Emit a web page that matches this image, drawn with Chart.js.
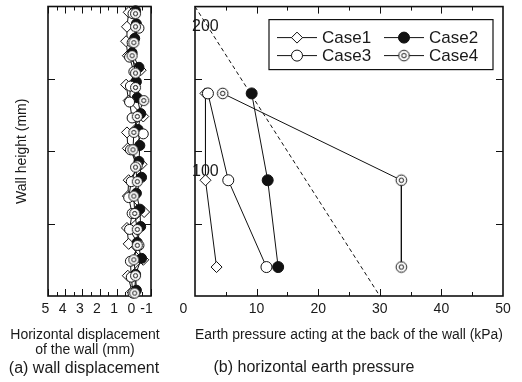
<!DOCTYPE html>
<html>
<head>
<meta charset="utf-8">
<script src="https://cdn.jsdelivr.net/npm/chart.js@4/dist/chart.umd.min.js"></script>
<style>
  body { margin: 0; background: #fff; }
  #wrap { position: relative; width: 522px; height: 382px; font-family: "Liberation Sans", Arial, sans-serif; color: #1a1a1a; }
  canvas { position: absolute; top: 0; }
  .cap { position: absolute; font-size: 16px; line-height: 20px; text-align: center; white-space: nowrap; }
  .axt { position: absolute; font-size: 14px; line-height: 15px; text-align: center; white-space: nowrap; }
</style>
</head>
<body>
<div id="wrap">
  <canvas id="dispChart" width="170" height="382" style="left:0"></canvas>
  <canvas id="pressChart" width="352" height="382" style="left:170px"></canvas>
  <div class="axt" style="left:0; width:170px; top:327px">Horizontal displacement<br>of the wall (mm)</div>
  <div class="cap" style="left:0; width:168px; top:358px">(a) wall displacement</div>
  <div class="cap" style="left:194px; width:240px; top:357px">(b) horizontal earth pressure</div>
</div>
<script>
// (a) wall displacement: height (mm) and horizontal displacement (mm)
const case1Height = [3, 14, 25, 36, 47, 58, 69, 80, 91, 102, 113, 124, 135, 146, 156, 166, 176, 186, 196];
const case1Disp   = [0.1, 0.35, -0.55, 0.3, 0.4, -0.6, 0.35, 0.3, -0.45, 0.35, 0.4, -0.55, 0.3, 0.45, -0.4, 0.35, 0.45, 0.4, 0.3];
const case2Height = [4, 15, 26, 37, 48, 60, 71, 82, 93, 104, 115, 126, 137, 148, 158, 168, 178, 188, 197];
const case2Disp   = [-0.15, -0.1, -0.45, -0.2, -0.4, -0.35, -0.15, -0.45, -0.3, -0.35, -0.25, -0.4, -0.2, -0.15, -0.3, 0.1, -0.05, -0.15, -0.1];
const case3Height = [2, 13, 24, 35, 46, 57, 68, 79, 90, 101, 112, 123, 134, 145, 155, 165, 175, 185, 195];
const case3Disp   = [0.05, 0.15, 0.2, -0.3, 0.25, 0.1, 0.3, 0.15, -0.2, 0.2, -0.55, 0.1, 0.25, 0.2, 0.0, 0.25, 0.1, -0.3, 0.05];
const case4Height = [2, 14, 25, 35, 46, 57, 69, 79, 89, 101, 113, 124, 135, 144, 154, 166, 175, 186, 195];
const case4Disp   = [-0.05, -0.1, 0.0, -0.2, -0.2, -0.05, 0.0, -0.2, -0.1, 0.05, 0.0, -0.2, -0.58, -0.1, -0.1, 0.1, 0.0, -0.1, -0.1];

// (b) horizontal earth pressure (kPa) at three heights (mm)
const pressHeight = [140, 80, 20];
const case1Press = [1.7, 1.7, 3.5];
const case2Press = [9.2, 11.8, 13.5];
const case3Press = [2.1, 5.4, 11.6];
const case4Press = [4.5, 33.5, 33.5];
const refPress = [0, 30];
const refHeight = [200, 0];

const heightLabels = [100, 200];
const dispTicks = [-1, -0.5, 0, 0.5, 1, 1.5, 2, 2.5, 3, 3.5, 4, 4.5, 5];
const pressTicks = [5, 10, 15, 20, 25, 30, 35, 40, 45];
const heightTicks = [50, 100, 150];

Chart.defaults.font.family = '"Liberation Sans", Arial, sans-serif';
Chart.defaults.color = '#1a1a1a';

const pts = (xs, ys) => xs.map((v, i) => ({ x: v, y: ys[i] }));

function doubleCircle(r) {
  const c = document.createElement('canvas');
  const s = Math.ceil(r * 2 + 3) | 1;
  c.width = s; c.height = s;
  const g = c.getContext('2d');
  g.strokeStyle = '#111'; g.fillStyle = '#fff'; g.lineWidth = 1;
  g.beginPath(); g.arc(s / 2, s / 2, r, 0, Math.PI * 2); g.fill(); g.stroke();
  g.beginPath(); g.arc(s / 2, s / 2, r * 0.42, 0, Math.PI * 2); g.stroke();
  return c;
}

function series(label, data, pointStyle, fill, r, order) {
  return {
    label, data, showLine: true, order, clip: false,
    borderColor: '#111', borderWidth: 1,
    pointStyle, pointRadius: r, pointHoverRadius: r,
    pointBackgroundColor: fill, pointBorderColor: '#111', pointBorderWidth: 1
  };
}

// box frame with short inward ticks on all four sides
const frameTicks = {
  id: 'frameTicks',
  beforeDatasetsDraw(chart, args, opts) {
    const { ctx, chartArea: a, scales } = chart;
    ctx.save();
    ctx.strokeStyle = '#111';
    ctx.lineWidth = 1;
    ctx.beginPath();
    opts.xTicks.forEach(v => {
      const p = Math.round(scales.x.getPixelForValue(v)) + 0.5;
      const len = v % opts.xMajor === 0 ? 7 : 4;
      ctx.moveTo(p, a.bottom); ctx.lineTo(p, a.bottom - len);
      ctx.moveTo(p, a.top); ctx.lineTo(p, a.top + len);
    });
    opts.yTicks.forEach(v => {
      const p = Math.round(scales.y.getPixelForValue(v)) + 0.5;
      ctx.moveTo(a.left, p); ctx.lineTo(a.left + 7, p);
      ctx.moveTo(a.right, p); ctx.lineTo(a.right - 7, p);
    });
    ctx.stroke();
    ctx.lineWidth = 1.6;
    ctx.strokeRect(a.left, a.top, a.right - a.left, a.bottom - a.top);
    ctx.restore();
  }
};

// two-column boxed legend with line-through-marker samples
const boxLegend = {
  id: 'boxLegend',
  afterDatasetsDraw(chart) {
    const { ctx, chartArea: a } = chart;
    const items = chart.data.datasets.filter(d => d.label.startsWith('Case'));
    const bx = a.right - 234, by = a.top + 13, bw = 224, bh = 50;
    ctx.save();
    ctx.fillStyle = '#fff';
    ctx.fillRect(bx, by, bw, bh);
    ctx.strokeStyle = '#111';
    ctx.lineWidth = 1.2;
    ctx.strokeRect(bx, by, bw, bh);
    items.forEach((d, i) => {
      const lx = bx + 8 + (i % 2) * 107;
      const ly = by + 18 + Math.floor(i / 2) * 18;
      ctx.lineWidth = 1;
      ctx.strokeStyle = '#111';
      ctx.beginPath(); ctx.moveTo(lx, ly); ctx.lineTo(lx + 40, ly); ctx.stroke();
      ctx.fillStyle = d.pointBackgroundColor;
      Chart.helpers.drawPoint(ctx, { pointStyle: d.pointStyle, radius: d.pointRadius, rotation: 0, borderWidth: 1 }, lx + 20, ly);
      ctx.fillStyle = '#1a1a1a';
      ctx.font = '17px "Liberation Sans", Arial, sans-serif';
      ctx.textBaseline = 'middle';
      ctx.fillText(d.label, lx + 45, ly + 1);
    });
    ctx.restore();
  }
};

const noGrid = { display: false, drawTicks: false };

new Chart(document.getElementById('dispChart'), {
  type: 'scatter',
  data: {
    datasets: [
      series('Case1', pts(case1Disp, case1Height), 'rectRot', '#fff', 5.5, 4),
      series('Case2', pts(case2Disp, case2Height), 'circle', '#111', 5, 3),
      series('Case3', pts(case3Disp, case3Height), 'circle', '#fff', 5, 2),
      series('Case4', pts(case4Disp, case4Height), doubleCircle(5), '#fff', 5, 1)
    ]
  },
  options: {
    responsive: false, animation: false, devicePixelRatio: 1,
    layout: { padding: { top: 3, right: 19, left: 0, bottom: 0 } },
    plugins: {
      legend: { display: false }, tooltip: { enabled: false },
      frameTicks: { xTicks: dispTicks, xMajor: 1, yTicks: heightTicks }
    },
    scales: {
      x: {
        type: 'linear', reverse: true, min: -1, max: 5,
        grid: noGrid, border: { display: false },
        ticks: { stepSize: 1, padding: 5, labelOffset: -2.5, font: { size: 14 },
                 autoSkip: false, maxRotation: 0, minRotation: 0,
                 callback: v => (v === -1 ? '-1 ' : String(v)) },
        afterFit: s => { s.height = 86; }
      },
      y: {
        type: 'linear', min: 0, max: 200,
        grid: noGrid, border: { display: false },
        ticks: { display: false, stepSize: 50 },
        title: { display: true, text: 'Wall height (mm)', font: { size: 14 }, padding: { top: 14, bottom: 0 } },
        afterFit: s => { s.width = 48; }
      }
    }
  },
  plugins: [frameTicks]
});

new Chart(document.getElementById('pressChart'), {
  type: 'scatter',
  data: {
    datasets: [
      series('Case1', pts(case1Press, pressHeight), 'rectRot', '#fff', 5.5, 4),
      series('Case2', pts(case2Press, pressHeight), 'circle', '#111', 5.5, 3),
      series('Case3', pts(case3Press, pressHeight), 'circle', '#fff', 5.5, 2),
      series('Case4', pts(case4Press, pressHeight), doubleCircle(5.3), '#fff', 5.5, 1),
      { label: 'ref', data: pts(refPress, refHeight), showLine: true, order: 5, clip: false,
        borderColor: '#111', borderWidth: 1, borderDash: [4, 3], pointRadius: 0 }
    ]
  },
  options: {
    responsive: false, animation: false, devicePixelRatio: 1,
    layout: { padding: { top: 3, right: 19, left: 0, bottom: 0 } },
    plugins: {
      legend: { display: false }, tooltip: { enabled: false },
      frameTicks: { xTicks: pressTicks, xMajor: 10, yTicks: heightTicks }
    },
    scales: {
      x: {
        type: 'linear', min: 0, max: 50,
        grid: noGrid, border: { display: false },
        ticks: { stepSize: 10, padding: 5, font: { size: 14 }, autoSkip: false, maxRotation: 0,
                 callback: v => (v === 0 ? '0      ' : String(v)) },
        title: { display: true, text: 'Earth pressure acting at the back of the wall (kPa)',
                 font: { size: 14, lineHeight: 1.07 }, padding: { top: 0, bottom: 39.5 } },
        afterFit: s => { s.height = 86; }
      },
      y: {
        type: 'linear', min: 0, max: 200,
        grid: noGrid, border: { display: false },
        ticks: { stepSize: 50, mirror: true, labelOffset: 20, padding: -3, autoSkip: false,
                 font: { size: 16 }, callback: v => (heightLabels.includes(v) ? String(v) : '') },
        afterFit: s => { s.width = 25; }
      }
    }
  },
  plugins: [frameTicks, boxLegend]
});
</script>
</body>
</html>
